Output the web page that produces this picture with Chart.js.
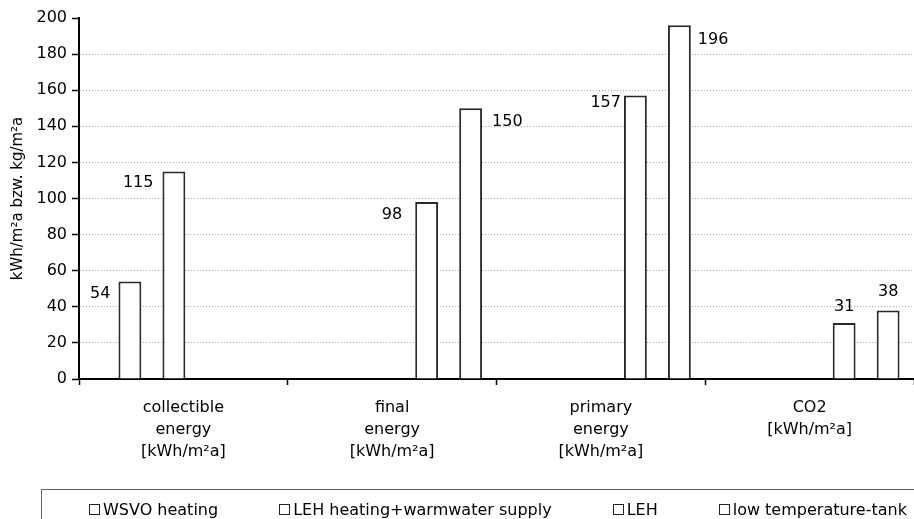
<!DOCTYPE html>
<html>
<head>
<meta charset="utf-8">
<script src="https://cdn.jsdelivr.net/npm/chart.js@4.4.1/dist/chart.umd.min.js"></script>
<style>
  html, body { margin: 0; padding: 0; background: #fff; overflow: hidden; }
  #wrap { position: relative; width: 914px; height: 519px; overflow: hidden; }
  #legend {
    position: absolute; left: 41px; top: 489px; width: 960px; height: 40px;
    border: 1px solid #666; box-sizing: border-box;
    display: flex; align-items: center; padding-left: 47px;
    font-family: "DejaVu Sans", sans-serif; font-size: 16px; color: #000;
  }
  #legend .item { display: flex; align-items: center; margin-right: 61px; white-space: nowrap; }
  #legend .box { width: 9px; height: 9px; border: 1px solid #222; background: #fff; margin-right: 3px; }
</style>
</head>
<body>
<div id="wrap">
  <canvas id="energyChart" width="914" height="519"></canvas>
  <div id="legend"></div>
</div>
<script>
// categories and series
const categories = [
    ['collectible', 'energy', '[kWh/m²a]'],
    ['final', 'energy', '[kWh/m²a]'],
    ['primary', 'energy', '[kWh/m²a]'],
    ['CO2', '[kWh/m²a]']
];
const seriesNames = ['WSVO heating', 'LEH heating+warmwater supply', 'LEH', 'low temperature-tank'];
const wsvoHeating = [54, null, null, null];
const lehHeatingWarmwater = [115, null, null, null];
const leh = [null, 98, 157, 31];
const lowTempTank = [null, 150, 196, 38];
const yMin = 0, yMax = 200, yStep = 20;

// where each value label sits next to its bar: [side, gap, vertical shift]
const labelPlacement = {
    '0-0': ['left', 8, 12],
    '1-0': ['left', 9, 11],
    '2-1': ['left', 13, 13],
    '3-1': ['right', 10, 14],
    '2-2': ['left', 3, 7],
    '3-2': ['right', 7, 15],
    '2-3': ['top', 0, -16],
    '3-3': ['top', 0, -19]
};

const FONT = '"DejaVu Sans", sans-serif';
const seriesValues = [wsvoHeating, lehHeatingWarmwater, leh, lowTempTank];

const valueLabels = {
    id: 'valueLabels',
    afterDatasetsDraw(chart) {
        const ctx = chart.ctx;
        ctx.save();
        ctx.font = '16px ' + FONT;
        ctx.fillStyle = '#000';
        ctx.textBaseline = 'middle';
        chart.data.datasets.forEach((ds, di) => {
            const meta = chart.getDatasetMeta(di);
            meta.data.forEach((bar, i) => {
                const v = ds.data[i].y;
                if (v === null) return;
                const p = labelPlacement[di + '-' + i] || ['top', 0, -14];
                const half = bar.width / 2;
                let x = bar.x;
                if (p[0] === 'left') { ctx.textAlign = 'right'; x = bar.x - half - p[1]; }
                else if (p[0] === 'right') { ctx.textAlign = 'left'; x = bar.x + half + p[1]; }
                else { ctx.textAlign = 'center'; }
                ctx.fillText(String(v), x, bar.y + p[2]);
            });
        });
        ctx.restore();
    }
};

const ctx = document.getElementById('energyChart').getContext('2d');
const chart = new Chart(ctx, {
    type: 'bar',
    data: {
        labels: categories,
        datasets: seriesNames.map((name, s) => ({
            label: name,
            data: seriesValues[s].map((v, i) => ({ x: i, y: v })),
            xAxisID: 'xb',
            backgroundColor: '#ffffff',
            borderColor: '#2a2a2a',
            borderWidth: 2,
            categoryPercentage: 0.843,
            barPercentage: 0.52
        }))
    },
    options: {
        responsive: false,
        animation: false,
        layout: { padding: { top: 18, right: 0, bottom: 0, left: 0 } },
        plugins: {
            legend: { display: false },
            tooltip: { enabled: false }
        },
        scales: {
            x: {
                type: 'category',
                offset: true,
                grid: {
                    offset: true,
                    drawOnChartArea: false,
                    color: '#000',
                    tickLength: 6,
                    tickWidth: 1.5
                },
                border: { color: '#000', width: 2 },
                ticks: {
                    color: '#000',
                    padding: 12,
                    maxRotation: 0,
                    autoSkip: false,
                    font: { family: FONT, size: 16, lineHeight: 1.37 }
                },
                afterFit(scale) { scale.height = 140; }
            },
            xb: {
                type: 'linear',
                display: false,
                offset: false,
                min: -0.56,
                max: 3.44,
                ticks: { stepSize: 1 }
            },
            y: {
                min: yMin,
                max: yMax,
                ticks: {
                    stepSize: yStep,
                    color: '#000',
                    padding: 5,
                    font: { family: FONT, size: 16 }
                },
                grid: {
                    color: c => (c.tick && (c.tick.value === yMax || c.tick.value === yMin)) ? 'rgba(0,0,0,0)' : '#a8a8a8',
                    lineWidth: 1,
                    tickColor: '#000',
                    tickLength: 7,
                    tickWidth: 1.5
                },
                border: { color: '#000', width: 2, dash: [1, 2] },
                title: {
                    display: true,
                    text: 'kWh/m²a bzw. kg/m²a',
                    color: '#000',
                    font: { family: FONT, size: 15 },
                    padding: { top: 9, bottom: 0 }
                },
                afterFit(scale) { scale.width = 79; }
            }
        }
    },
    plugins: [valueLabels]
});

// legend built from the series names
const legend = document.getElementById('legend');
seriesNames.forEach(name => {
    const item = document.createElement('span');
    item.className = 'item';
    const box = document.createElement('span');
    box.className = 'box';
    const text = document.createElement('span');
    text.textContent = name;
    item.appendChild(box);
    item.appendChild(text);
    legend.appendChild(item);
});
</script>
</body>
</html>
